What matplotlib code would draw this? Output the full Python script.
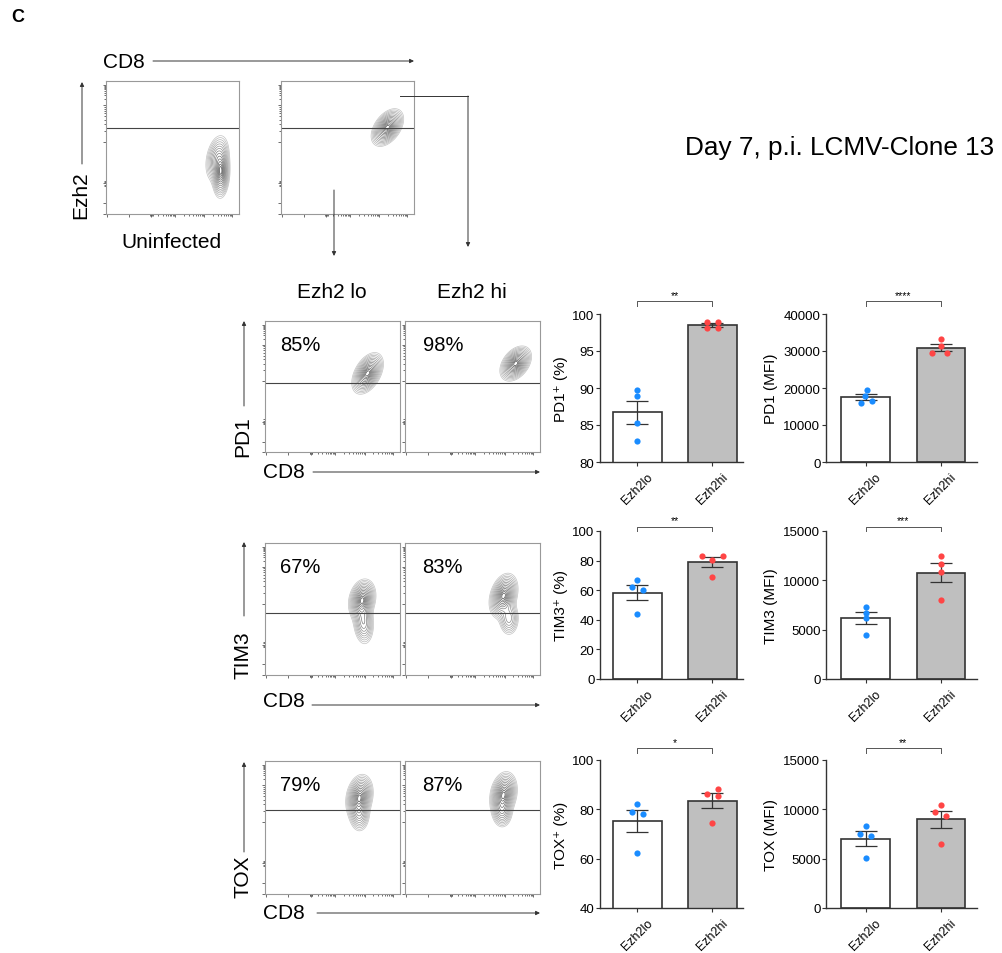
import numpy as np
import matplotlib
matplotlib.use('Agg')
import matplotlib.pyplot as plt
from matplotlib.transforms import blended_transform_factory

plt.rcParams['font.family'] = ['Liberation Sans', 'DejaVu Sans']

W, H = 1002, 954

# ---- bar chart data (one value per mouse) ----
groups = ['Ezh2lo', 'Ezh2hi']
pd1_pct_lo = [89.7, 88.9, 85.3, 82.9]
pd1_pct_hi = [98.9, 98.9, 98.15, 98.15]
pd1_mfi_lo = [19500, 17900, 16000, 16600]
pd1_mfi_hi = [33200, 31400, 29400, 29400]
tim3_pct_lo = [67.0, 62.1, 60.3, 43.8]
tim3_pct_hi = [83.3, 83.3, 80.6, 68.9]
tim3_mfi_lo = [7340, 6700, 6200, 4470]
tim3_mfi_hi = [12490, 11650, 10840, 8050]
tox_pct_lo = [82.3, 79.1, 78.1, 62.1]
tox_pct_hi = [88.3, 86.3, 85.4, 74.3]
tox_mfi_lo = [8350, 7490, 7310, 5020]
tox_mfi_hi = [10420, 9740, 9340, 6500]
stars = ['**', '****', '**', '***', '*', '**']
ylabels = ['PD1⁺ (%)', 'PD1 (MFI)', 'TIM3⁺ (%)', 'TIM3 (MFI)', 'TOX⁺ (%)', 'TOX (MFI)']

# ---- flow data ----
markers = ['PD1', 'TIM3', 'TOX']
pct_lo = ['85%', '67%', '79%']
pct_hi = ['98%', '83%', '87%']
# contour populations: (cx, cy, sx, sy, rho, weight) in axis fraction
pop_uninf = [(0.865, 0.31, 0.028, 0.08, 0.1, 1.0), (0.835, 0.42, 0.04, 0.08, 0.3, 0.5)]
pop_cl13 = [(0.80, 0.65, 0.05, 0.058, 0.45, 1.0)]
pop_lo = [[(0.76, 0.60, 0.048, 0.065, 0.45, 1.0)],
          [(0.72, 0.57, 0.042, 0.065, 0.2, 1.0), (0.73, 0.40, 0.034, 0.075, -0.1, 0.55)],
          [(0.70, 0.73, 0.042, 0.07, 0.2, 1.0), (0.70, 0.60, 0.034, 0.06, 0.0, 0.45)]]
pop_hi = [[(0.82, 0.675, 0.048, 0.055, 0.4, 1.0)],
          [(0.73, 0.60, 0.044, 0.07, 0.3, 1.0), (0.77, 0.43, 0.034, 0.06, 0.0, 0.4)],
          [(0.73, 0.75, 0.042, 0.07, 0.2, 1.0), (0.72, 0.62, 0.034, 0.055, 0.0, 0.45)]]
gate_top = 0.65
gates = [0.53, 0.47, 0.63]

fig = plt.figure(figsize=(W / 100, H / 100), dpi=100)


def px_axes(x0, y0, x1, y1):
    return fig.add_axes([x0 / W, 1 - y1 / H, (x1 - x0) / W, (y1 - y0) / H])


gx, gy = np.meshgrid(np.linspace(0, 1, 300), np.linspace(0, 1, 300))


def flow(ax, pops, gate):
    z = np.zeros_like(gx)
    for cx, cy, sx, sy, r, w in pops:
        dx = (gx - cx) / sx
        dy = (gy - cy) / sy
        q = (dx**2 - 2 * r * dx * dy + dy**2) / (1 - r**2)
        z += w * np.exp(-q / 2)
    rr = np.linspace(2.45, 0.3, 14)
    lv = z.max() * np.exp(-rr**2 / 2)
    cols = plt.cm.Greys(np.linspace(0.35, 0.75, len(lv)))
    ax.contour(gx, gy, z, levels=lv, colors=cols, linewidths=0.5)
    ax.axhline(gate, color='#444444', lw=0.8)
    ax.set_xlim(0, 1)
    ax.set_ylim(0, 1)
    for s in ax.spines.values():
        s.set_color('#999999')
        s.set_linewidth(0.8)
    xmaj = [0.01, 0.17, 0.34, 0.52, 0.74, 0.95]
    ymaj = [0.0, 0.08, 0.23, 0.54, 0.82, 0.97]
    ax.set_xticks(xmaj)
    ax.set_yticks(ymaj)
    mn = []
    for a, b in zip(xmaj[2:-1], xmaj[3:]):
        mn += list(a + (b - a) * np.log10(np.arange(2, 10)))
    ax.set_xticks(mn + [0.33, 0.335, 0.345, 0.35], minor=True)
    mn = []
    for a, b in zip(ymaj[3:-1], ymaj[4:]):
        mn += list(a + (b - a) * np.log10(np.arange(2, 10)))
    ax.set_yticks(mn + [0.21, 0.22, 0.24, 0.25], minor=True)
    ax.tick_params(which='both', labelbottom=False, labelleft=False,
                   color='#555555', width=0.6, direction='out')
    ax.tick_params(which='major', length=2.5)
    ax.tick_params(which='minor', length=1.2)


# ---- top flow plots ----
ax = px_axes(106, 82, 239, 215)
flow(ax, pop_uninf, gate_top)
ax = px_axes(281, 82, 414, 215)
flow(ax, pop_cl13, gate_top)

# ---- lower flow plots ----
rows_flow = [(322, 453), (544, 676), (762, 895)]
for i, (t, b) in enumerate(rows_flow):
    ax = px_axes(265, t, 400, b)
    flow(ax, pop_lo[i], gates[i])
    ax.text(0.11, 0.82, pct_lo[i], transform=ax.transAxes, fontsize=14.5, va='center')
    ax = px_axes(405, t, 540, b)
    flow(ax, pop_hi[i], gates[i])
    ax.text(0.13, 0.82, pct_hi[i], transform=ax.transAxes, fontsize=14.5, va='center')

# ---- bar charts ----
bar_data = [(pd1_pct_lo, pd1_pct_hi), (pd1_mfi_lo, pd1_mfi_hi),
            (tim3_pct_lo, tim3_pct_hi), (tim3_mfi_lo, tim3_mfi_hi),
            (tox_pct_lo, tox_pct_hi), (tox_mfi_lo, tox_mfi_hi)]
ylims = [(80, 100), (0, 40000), (0, 100), (0, 15000), (40, 100), (0, 15000)]
ysteps = [5, 10000, 20, 5000, 20, 5000]
jit = [([0, 0, 0, 0], [-0.07, 0.07, -0.07, 0.07]),
       ([0.01, -0.01, -0.06, 0.08], [0, 0, -0.12, 0.08]),
       ([0, -0.07, 0.08, 0], [-0.14, 0.14, 0, 0]),
       ([0, 0, 0, 0], [0, 0, 0, 0]),
       ([0, -0.07, 0.08, 0], [0.07, -0.07, 0.07, 0]),
       ([0, -0.08, 0.07, 0], [0, -0.08, 0.07, 0])]
rows_bar = [(315, 463), (532, 680), (761, 909)]
cols_bar = [(600, 743, 1.41), (826, 977, 1.48)]
brk = [1.085, 1.03, 1.08]

for k in range(6):
    r, c = divmod(k, 2)
    x0, x1, xr = cols_bar[c]
    t, b = rows_bar[r]
    ax = px_axes(x0, t, x1, b)
    lo, hi = bar_data[k]
    means = [np.mean(lo), np.mean(hi)]
    sems = [np.std(lo, ddof=1) / 2, np.std(hi, ddof=1) / 2]
    ax.bar([0, 1], means, width=0.65, color=['white', '#bfbfbf'],
           edgecolor='#333333', linewidth=1.2, zorder=1)
    ax.errorbar([0, 1], means, yerr=sems, fmt='none', ecolor='#333333',
                elinewidth=0.9, capsize=8, capthick=0.9, zorder=2)
    ax.scatter(np.array(jit[k][0]), lo, s=20, color='#1a8cff', lw=0, zorder=3)
    ax.scatter(1 + np.array(jit[k][1]), hi, s=20, color='#ff4545', lw=0, zorder=3)
    ax.set_xlim(-0.5 if c == 0 else -0.53, xr)
    ax.set_ylim(*ylims[k])
    ax.set_yticks(np.arange(ylims[k][0], ylims[k][1] + 1, ysteps[k]))
    ax.set_xticks([0, 1])
    ax.set_xticklabels(groups, rotation=45, fontsize=9, ha='center', va='top')
    ax.tick_params(axis='y', labelsize=9.5, length=3, pad=1, color='#333333')
    ax.tick_params(axis='x', length=3, pad=3, color='#333333')
    for s in ['top', 'right']:
        ax.spines[s].set_visible(False)
    for s in ['left', 'bottom']:
        ax.spines[s].set_color('#333333')
        ax.spines[s].set_linewidth(1.0)
    ax.set_ylabel(ylabels[k], fontsize=11, labelpad=3 if c == 0 else 4)
    tr = blended_transform_factory(ax.transData, ax.transAxes)
    ax.plot([0, 0, 1, 1], [brk[r] - 0.03, brk[r], brk[r], brk[r] - 0.03],
            transform=tr, clip_on=False, color='#555555', lw=0.7)
    ax.text(0.5, brk[r] + 0.01, stars[k], transform=tr, ha='center',
            va='bottom', fontsize=7.5)

# ---- overlay: labels and arrows in pixel coordinates ----
ov = fig.add_axes([0, 0, 1, 1])
ov.set_xlim(0, W)
ov.set_ylim(H, 0)
ov.axis('off')


def arrow(x0, y0, x1, y1):
    ov.annotate('', xy=(x1, y1), xytext=(x0, y0),
                arrowprops=dict(arrowstyle='-|>', lw=0.7, color='#333333',
                                mutation_scale=6, shrinkA=0, shrinkB=0))


ov.text(18, 17, 'C', fontsize=13, fontweight='bold', ha='center', va='center')
ov.text(103, 62, 'CD8', fontsize=15, ha='left', va='center')
arrow(153, 62, 414, 62)
ov.text(81, 195, 'Ezh2', fontsize=15, rotation=90, ha='center', va='center')
arrow(82, 165, 82, 83)
ov.text(171, 242, 'Uninfected', fontsize=15, ha='center', va='center')
ov.text(994, 148, 'Day 7, p.i. LCMV-Clone 13', fontsize=18.8, ha='right', va='center')
ov.plot([400, 468], [97, 97], color='#333333', lw=0.7)
arrow(468, 97, 468, 248)
arrow(334, 191, 334, 257)
ov.text(332, 293, 'Ezh2 lo', fontsize=15, ha='center', va='center')
ov.text(472, 293, 'Ezh2 hi', fontsize=15, ha='center', va='center')

lab_y = [437, 655, 877]
arr_y = [(407, 322), (617, 543), (853, 763)]
cd8_y = [473, 702, 914]
cd8_ay = [473, 706, 914]
cd8_ax = [313, 312, 317]
for i in range(3):
    ov.text(243, lab_y[i], markers[i], fontsize=15, rotation=90, ha='center', va='center')
    arrow(244, arr_y[i][0], 244, arr_y[i][1])
    ov.text(263, cd8_y[i], 'CD8', fontsize=15, ha='left', va='center')
    arrow(cd8_ax[i], cd8_ay[i], 540, cd8_ay[i])

fig.savefig('out.png', dpi=100)
